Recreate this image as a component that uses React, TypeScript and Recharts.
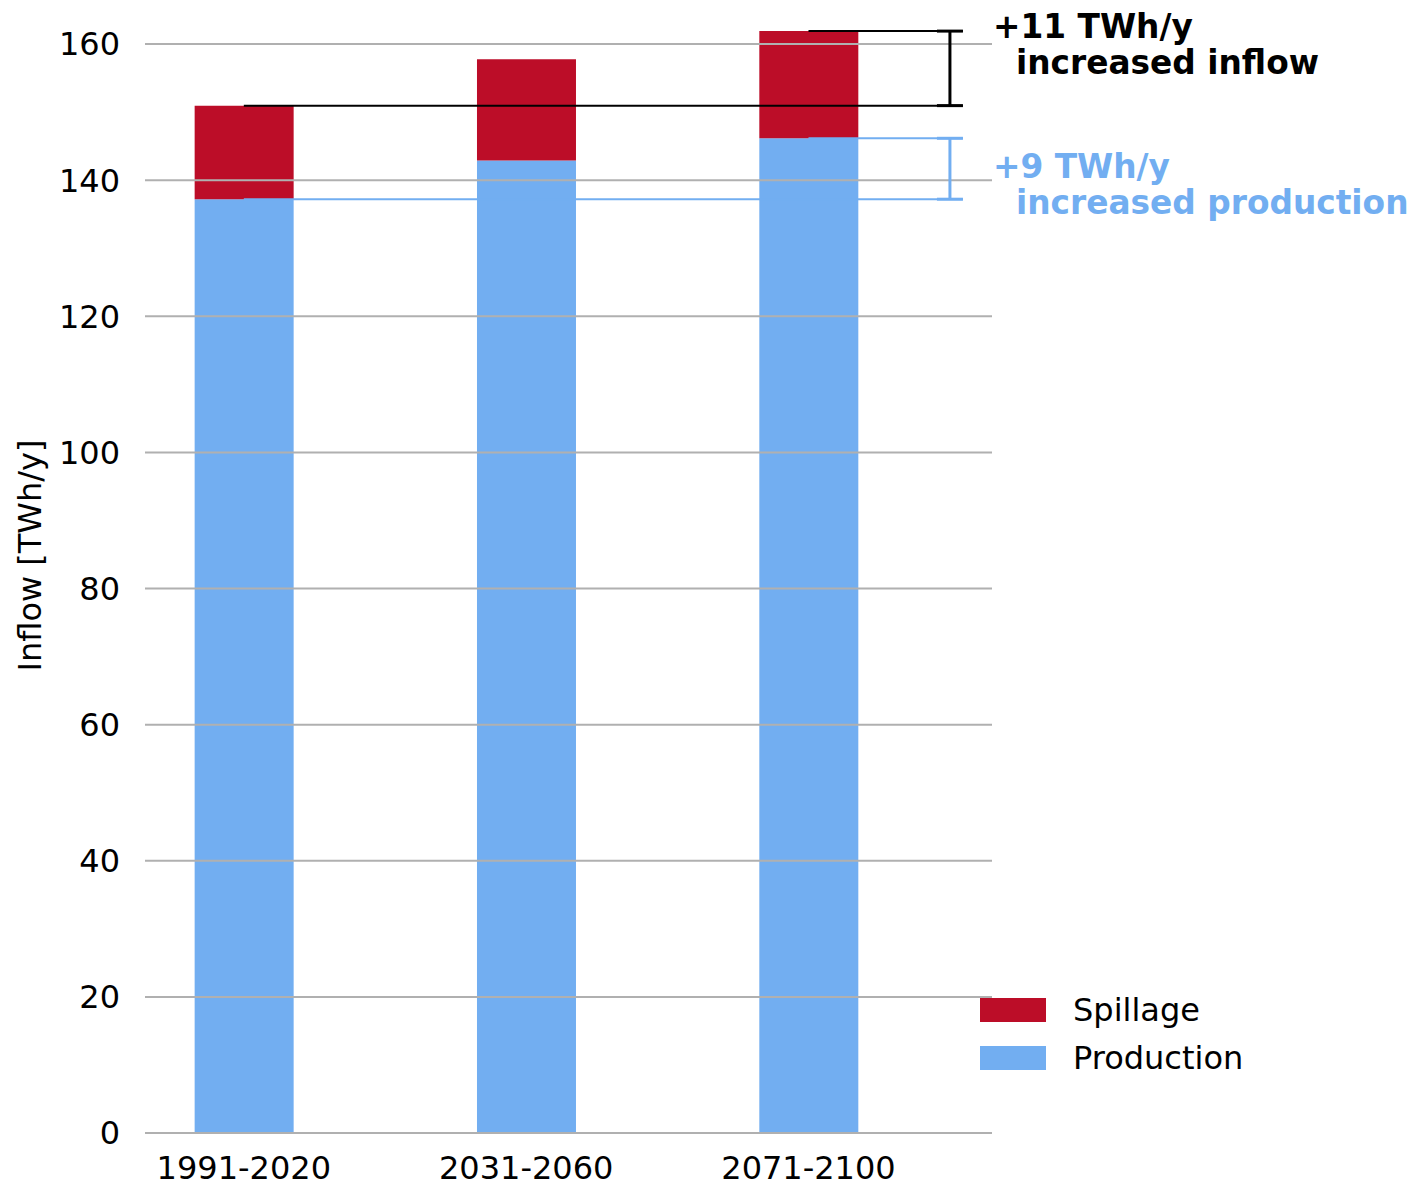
import React from "react";
import {
  BarChart, Bar, XAxis, YAxis, ReferenceLine, ReferenceDot,
} from "recharts";

const periods = ["1991-2020", "2031-2060", "2071-2100"];
const production = [137.2, 142.9, 146.15];
const spillage = [13.75, 14.85, 15.75];
const yTicks = [0, 20, 40, 60, 80, 100, 120, 140, 160];

const RED = "#bc0d28";
const BLUE = "#72aef1";
const GRID = "#b0b0b0";
const FONT = "DejaVu Sans, sans-serif";

const data = periods.map((p, i) => ({
  x: i,
  period: p,
  production: production[i],
  spillage: spillage[i],
}));

const totals = production.map((p, i) => p + spillage[i]);

function YLabel(props: any) {
  const vb = props.viewBox;
  const cx = vb.x + 30;
  const cy = vb.y + vb.height / 2 - 16;
  return (
    <text x={cx} y={cy} transform={`rotate(-90 ${cx} ${cy})`} textAnchor="middle"
      dominantBaseline="central" fontSize={32} fontFamily={FONT} fill="#000">
      Inflow [TWh/y]
    </text>
  );
}

function Note({ cx, cy, color, l1, l2, d1, d2 }: any) {
  return (
    <g>
      <text x={cx + 1} y={cy + d1} fontSize={32.8} fontWeight="bold" fontFamily={FONT} fill={color}>{l1}</text>
      <text x={cx + 24} y={cy + d2} fontSize={32.8} fontWeight="bold" fontFamily={FONT} fill={color}>{l2}</text>
    </g>
  );
}

function LegendBox() {
  const items = [
    { name: "Spillage", color: RED },
    { name: "Production", color: BLUE },
  ];
  return (
    <div style={{ position: "absolute", left: 980, top: 986, fontFamily: FONT, fontSize: 32 }}>
      {items.map((it) => (
        <div key={it.name} style={{ display: "flex", alignItems: "center", height: 48 }}>
          <div style={{ width: 66, height: 24, background: it.color, marginRight: 27 }} />
          <span style={{ lineHeight: "24px" }}>{it.name}</span>
        </div>
      ))}
    </div>
  );
}

export default function App() {
  const capL = 2.455, capR = 2.547, bx = 2.501;
  return (
    <div style={{ position: "absolute", left: 0, top: 0, width: 1411, height: 1186, background: "#fff" }}>
      <BarChart width={1411} height={1186} data={data}
        margin={{ top: 10, right: 419, left: 0, bottom: 9 }}>
        <XAxis type="number" dataKey="x" domain={[-0.35, 2.65]} ticks={[0, 1, 2]}
          tickFormatter={(v: number) => periods[v]} axisLine={false} tickLine={false}
          tickSize={0} tickMargin={23} height={44}
          tick={{ fontSize: 32, fontFamily: FONT, fill: "#000" }} />
        <YAxis type="number" domain={[0, 165]} ticks={yTicks} axisLine={false} tickLine={false}
          tickSize={0} tickMargin={25} width={145}
          tick={{ fontSize: 32, fontFamily: FONT, fill: "#000" }}
          label={{ content: YLabel }} />
        <Bar dataKey="production" stackId="a" fill={BLUE} barSize={99} isAnimationActive={false} />
        <Bar dataKey="spillage" stackId="a" fill={RED} barSize={99} isAnimationActive={false} />

        {/* grid drawn over the bars */}
        {yTicks.map((t) => (
          <ReferenceLine key={t} y={t} stroke={GRID} strokeWidth={2} />
        ))}

        {/* inflow bracket */}
        <ReferenceLine segment={[{ x: 0, y: totals[0] }, { x: capR, y: totals[0] }]} stroke="#000" strokeWidth={2} />
        <ReferenceLine segment={[{ x: 2, y: totals[2] }, { x: capR, y: totals[2] }]} stroke="#000" strokeWidth={2} />
        <ReferenceLine segment={[{ x: capL, y: totals[0] }, { x: capR, y: totals[0] }]} stroke="#000" strokeWidth={3} />
        <ReferenceLine segment={[{ x: capL, y: totals[2] }, { x: capR, y: totals[2] }]} stroke="#000" strokeWidth={3} />
        <ReferenceLine segment={[{ x: bx, y: totals[0] }, { x: bx, y: totals[2] }]} stroke="#000" strokeWidth={3} />

        {/* production bracket */}
        <ReferenceLine segment={[{ x: 0, y: production[0] }, { x: capR, y: production[0] }]} stroke={BLUE} strokeWidth={2} />
        <ReferenceLine segment={[{ x: 2, y: production[2] }, { x: capR, y: production[2] }]} stroke={BLUE} strokeWidth={2} />
        <ReferenceLine segment={[{ x: capL, y: production[0] }, { x: capR, y: production[0] }]} stroke={BLUE} strokeWidth={3} />
        <ReferenceLine segment={[{ x: capL, y: production[2] }, { x: capR, y: production[2] }]} stroke={BLUE} strokeWidth={3} />
        <ReferenceLine segment={[{ x: bx, y: production[0] }, { x: bx, y: production[2] }]} stroke={BLUE} strokeWidth={3} />

        <ReferenceDot x={2.65} y={totals[2]} ifOverflow="visible"
          shape={(p: any) => <Note cx={p.cx} cy={p.cy} color="#000" l1="+11 TWh/y" l2="increased inflow" d1={6.5} d2={43} />} />
        <ReferenceDot x={2.65} y={production[2]} ifOverflow="visible"
          shape={(p: any) => <Note cx={p.cx} cy={p.cy} color={BLUE} l1="+9 TWh/y" l2="increased production" d1={40} d2={76} />} />
      </BarChart>
      <LegendBox />
    </div>
  );
}
